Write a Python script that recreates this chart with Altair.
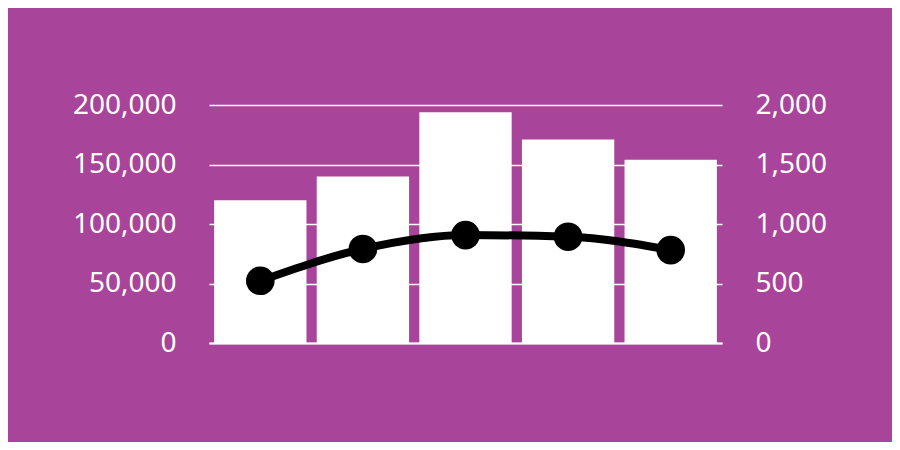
import altair as alt
import pandas as pd

categories = ["A", "B", "C", "D", "E"]
bar_values = [120000, 140000, 194000, 171000, 154000]
line_values = [523, 790, 907, 893, 781]

df = pd.DataFrame({"cat": categories, "bar": bar_values, "line": line_values})

BG = "#A8449A"
FONT = "Noto Sans"

x = alt.X("cat:N", sort=categories, title=None,
          scale=alt.Scale(paddingInner=0.1, paddingOuter=0.05),
          axis=alt.Axis(labels=False, ticks=False, domain=True, domainColor="white",
                        domainWidth=2, title=None))

bars = alt.Chart(df).mark_bar(color="white").encode(
    x=x,
    y=alt.Y("bar:Q", title=None,
            scale=alt.Scale(domain=[0, 200000]),
            axis=alt.Axis(values=[0, 50000, 100000, 150000, 200000], format=",.0f",
                          labelColor="white", labelFont=FONT, labelFontSize=28,
                          labelPadding=33, ticks=False, domain=False,
                          grid=True, gridColor="white", gridWidth=1.5, gridOpacity=1,
                          orient="left")),
)

line = alt.Chart(df).mark_line(color="black", strokeWidth=8, interpolate="monotone").encode(
    x=x,
    y=alt.Y("line:Q", title=None,
            scale=alt.Scale(domain=[0, 2000]),
            axis=alt.Axis(values=[0, 500, 1000, 1500, 2000], format=",.0f",
                          labelColor="white", labelFont=FONT, labelFontSize=28,
                          labelPadding=33, ticks=False, domain=False, grid=False,
                          orient="right")),
)

points = alt.Chart(df).mark_circle(color="black", opacity=1, size=820).encode(
    x=x,
    y=alt.Y("line:Q", scale=alt.Scale(domain=[0, 2000]), axis=None),
)

chart = alt.layer(bars, line, points).resolve_scale(y="independent").properties(
    width=513, height=238,
    background=BG,
    autosize=alt.AutoSizeParams(type="none"),
    padding={"left": 201, "top": 97, "right": 170, "bottom": 99},
).configure_view(stroke=None)

chart.save("out.html", embed_options={"renderer": "svg", "actions": False})
